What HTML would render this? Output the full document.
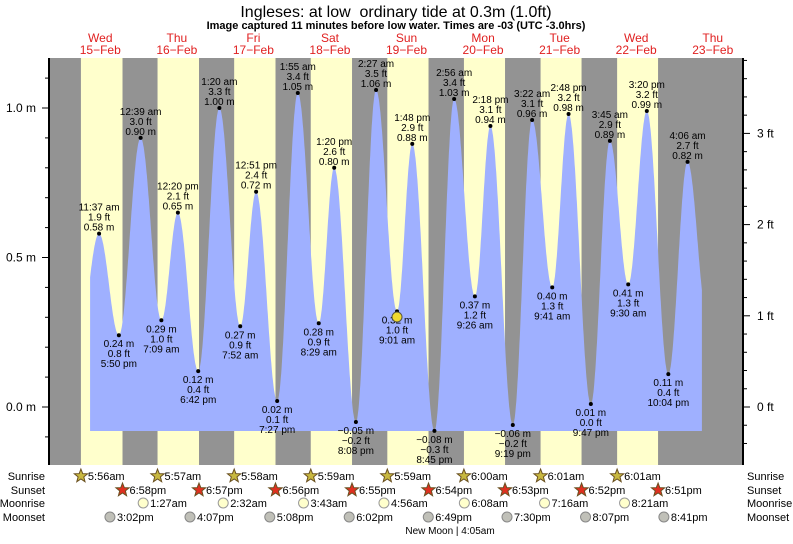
<!DOCTYPE html>
<html><head><meta charset="utf-8"><style>
body{margin:0;background:#fff;width:793px;height:539px;overflow:hidden}
svg{font-family:"Liberation Sans",sans-serif}
</style></head><body>
<svg id="s" width="793" height="539" xmlns="http://www.w3.org/2000/svg"></svg>
<script>
(function(){
const S=document.getElementById('s');let h='';
const X=t=>62+3.19*t, Y=m=>407-299*m;
const TOP=58,BOT=465;
h+=`<rect x="49" y="${TOP}" width="694" height="${BOT-TOP}" fill="#939393"/>`;
const sr=[5.93,5.95,5.97,5.98,5.98,6,6.02,6.02],ss=[18.97,18.95,18.93,18.92,18.9,18.88,18.87,18.85];
for(let d=0;d<8;d++){h+=`<rect x="${X(d*24+sr[d])}" y="${TOP}" width="${X(ss[d])-X(sr[d])}" height="${BOT-TOP}" fill="#ffffcc"/>`;}
const tr=[[5,0.2],[11.62,.58],[17.83,.24],[24.65,.9],[31.15,.29],[36.33,.65],[42.7,.12],[49.33,1],[55.87,.27],[60.85,.72],[67.45,.02],[73.92,1.05],[80.48,.28],[85.33,.8],[92.13,-.05],[98.45,1.06],[105.02,.32],[109.8,.88],[116.75,-.08],[122.93,1.03],[129.43,.37],[134.3,.94],[141.32,-.06],[147.37,.96],[153.68,.40],[158.8,.98],[165.78,.01],[171.75,.89],[177.5,.41],[183.33,.99],[190.07,.11],[196.1,.82],[202.3,.3]];
function lv(t){for(let i=0;i<tr.length-1;i++){const a=tr[i][0],ma=tr[i][1],b=tr[i+1][0],mb=tr[i+1][1];if(t>=a&&t<=b){const f=(t-a)/(b-a);return ma+(mb-ma)*(1-Math.cos(Math.PI*f))/2;}}return 0;}
let p=`M${X(8.8)},431`;for(let t=8.8;t<=200.6;t+=0.1)p+=` L${X(t).toFixed(1)},${Y(lv(t)).toFixed(1)}`;p+=` L${X(200.6)},431Z`;
h+=`<path d="${p}" fill="#9fb0ff"/>`;
const tl=['','11:37 am','5:50 pm','12:39 am','7:09 am','12:20 pm','6:42 pm','1:20 am','7:52 am','12:51 pm','7:27 pm','1:55 am','8:29 am','1:20 pm','8:08 pm','2:27 am','9:01 am','1:48 pm','8:45 pm','2:56 am','9:26 am','2:18 pm','9:19 pm','3:22 am','9:41 am','2:48 pm','9:47 pm','3:45 am','9:30 am','3:20 pm','10:04 pm','4:06 am'];
const T=(x,y,s,a,fs,extra)=>`<text x="${x}" y="${y}" font-size="${fs||10}" text-anchor="${a||'middle'}" ${extra||''}>${s}</text>`;
for(let i=1;i<=31;i++){const t=tr[i][0],m=tr[i][1];const x=X(t),y=Y(m);let ft=(m*3.2808).toFixed(1);if(ft=='-0.0')ft='0.0';ft=ft.replace('-','−');const ms=m.toFixed(2).replace('-','−')+' m';
const hi=tr[i-1][1]<m;h+=`<circle cx="${x}" cy="${y}" r="2" fill="#000"/>`;
if(hi){h+=T(x,y-23,tl[i])+T(x,y-13,ft+' ft')+T(x,y-3,ms);}else{h+=T(x,y+12,ms)+T(x,y+22,ft+' ft')+T(x,y+32,tl[i]);}}
h+=`<circle cx="397" cy="317" r="5" fill="#f0d830" stroke="#554" stroke-width="1"/>`;
h+=`<line x1="49" y1="${TOP}" x2="49" y2="${BOT}" stroke="#000" stroke-width="2"/><line x1="743" y1="${TOP}" x2="743" y2="${BOT}" stroke="#000" stroke-width="2"/>`;
for(let k=-1;k<=11;k++){const m=k/10;const y=Y(m);const maj=(k%5==0);h+=`<line x1="${maj?42:45}" y1="${y}" x2="49" y2="${y}" stroke="#000"/>`;if(maj)h+=T(36,y+4,m.toFixed(1)+' m','end',12);}
for(let k=-2;k<=19;k++){const f=k/5;const y=407-f*91.2;if(y<TOP+2||y>BOT-2)continue;const maj=(k%5==0);h+=`<line x1="743" y1="${y}" x2="${maj?750:747}" y2="${y}" stroke="#000"/>`;if(maj)h+=T(757,y+4,Math.round(f)+' ft','start',12);}
h+=T(396,17,'Ingleses: at low&#160; ordinary tide at 0.3m (1.0ft)','middle',16);
h+=T(396,29,'Image captured 11 minutes before low water. Times are -03 (UTC -3.0hrs)','middle',11,'font-weight="bold"');
const dn=['Wed','Thu','Fri','Sat','Sun','Mon','Tue','Wed','Thu'];
for(let d=0;d<9;d++){const x=X(d*24+12);h+=T(x,42,dn[d],'middle',12,'fill="#e02020"')+T(x,54,(15+d)+'−Feb','middle',12,'fill="#e02020"');}
const rows=['Sunrise','Sunset','Moonrise','Moonset'],ry=[476,490,503,517];
rows.forEach((r,i)=>{h+=T(45,ry[i]+4,r,'end',11)+T(747,ry[i]+4,r,'start',11);});
const star=(x,y,c)=>{let pts='';for(let k=0;k<10;k++){const a=-Math.PI/2+k*Math.PI/5,r=k%2?3:7;pts+=(x+r*Math.cos(a)).toFixed(1)+','+(y+r*Math.sin(a)).toFixed(1)+' ';}return `<polygon points="${pts}" fill="${c}" stroke="#6a5020" stroke-width="1"/>`;};
const srt=['5:56am','5:57am','5:58am','5:59am','5:59am','6:00am','6:01am','6:01am'],sst=['6:58pm','6:57pm','6:56pm','6:55pm','6:54pm','6:53pm','6:52pm','6:51pm'];
for(let d=0;d<8;d++){let x=X(d*24+sr[d]);h+=star(x,ry[0],'#c8b840')+T(x+7,ry[0]+4,srt[d],'start',11);x=X(d*24+ss[d]);h+=star(x,ry[1],'#e03020')+T(x+7,ry[1]+4,sst[d],'start',11);}
const mr=[[25.45,'1:27am'],[50.53,'2:32am'],[75.72,'3:43am'],[100.93,'4:56am'],[126.13,'6:08am'],[151.27,'7:16am'],[176.35,'8:21am']];
const mst=[[15.03,'3:02pm'],[40.12,'4:07pm'],[65.13,'5:08pm'],[90.03,'6:02pm'],[114.82,'6:49pm'],[139.5,'7:30pm'],[164.12,'8:07pm'],[188.68,'8:41pm']];
mr.forEach(function(e){const x=X(e[0]);h+=`<circle cx="${x}" cy="${ry[2]}" r="5" fill="#ffffcc" stroke="#999"/>`+T(x+7,ry[2]+4,e[1],'start',11);});
mst.forEach(function(e){const x=X(e[0]);h+=`<circle cx="${x}" cy="${ry[3]}" r="5" fill="#c0c0b8" stroke="#888"/>`+T(x+7,ry[3]+4,e[1],'start',11);});
h+=T(450,534,'New Moon | 4:05am','middle',10);
S.innerHTML=h;
})();
</script>
</body></html>
